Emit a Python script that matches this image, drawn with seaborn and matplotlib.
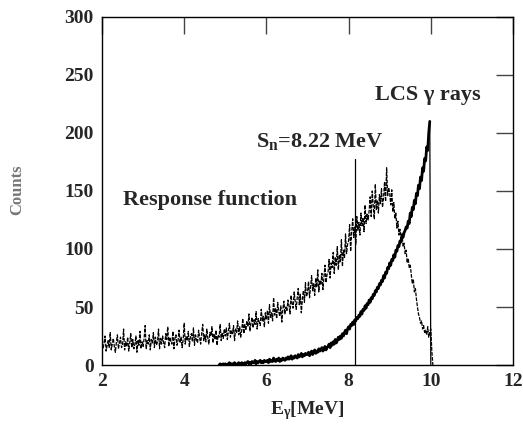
import numpy as np
import pandas as pd
import matplotlib
matplotlib.use("Agg")
import matplotlib.pyplot as plt
import seaborn as sns

# Response function (dashed noisy curve), energies 2.000 .. 10.050 step 0.025
resp_counts = [
    22, 14, 19, 25, 12, 17, 21, 15, 28, 13, 18, 23, 16, 11, 20, 26, 14, 19, 24, 15,
    17, 31, 13, 20, 16, 24, 12, 19, 27, 15, 22, 14, 18, 25, 11, 21, 17, 29, 14, 20,
    16, 23, 34, 14, 21, 18, 26, 13, 22, 19, 28, 15, 24, 17, 20, 31, 14, 23, 18, 25,
    19, 15, 27, 22, 33, 16, 24, 20, 18, 29, 14, 23, 26, 17, 21, 30, 19, 24, 15, 22,
    36, 18, 25, 21, 29, 16, 24, 27, 20, 32, 17, 26, 22, 19, 30, 24, 18, 27, 35, 21,
    26, 20, 31, 23, 18, 28, 25, 33, 19, 27, 22, 30, 17, 26, 24, 35, 21, 28, 23, 31,
    25, 32, 22, 29, 36, 24, 30, 27, 34, 21, 31, 28, 38, 26, 33, 24, 30, 40, 27, 35,
    30, 38, 33, 44, 29, 36, 41, 32, 39, 35, 46, 31, 40, 37, 34, 48, 38, 42, 33, 45,
    39, 47, 36, 52, 41, 45, 38, 58, 43, 49, 40, 54, 46, 42, 51, 37, 48, 55, 44, 50,
    47, 56, 51, 44, 60, 53, 49, 63, 55, 48, 58, 66, 52, 61, 45, 57, 64, 54, 71, 59,
    62, 72, 58, 68, 77, 64, 70, 60, 75, 67, 82, 63, 73, 69, 79, 65, 76, 86, 71, 78,
    80, 91, 75, 88, 84, 97, 79, 93, 86, 102, 82, 95, 89, 108, 85, 99, 92, 113, 96, 104,
    107, 121, 98, 115, 126, 110, 119, 104, 128, 116, 123, 112, 131, 120, 127, 115, 138, 122, 130, 125,
    133, 145, 128, 150, 137, 126, 156, 134, 142, 131, 147, 139, 152, 136, 144, 158, 141, 170, 146, 153,
    148, 138, 151, 132, 140, 126, 131, 118, 124, 112, 117, 108, 114, 102, 105, 96, 99, 88, 92, 84,
    86, 78, 70, 74, 63, 66, 57, 50, 44, 41, 36, 38, 31, 34, 28, 30, 26, 33, 24, 29,
    31, 12, 0,
]
resp_energy = np.round(np.arange(len(resp_counts)) * 0.025 + 2.0, 3)

# LCS gamma-ray spectrum, energies 4.850 .. 10.000 step 0.025
lcs_counts = [
    0, 1, 0, 0, 1, 0,
    1, 0, 0, 1, 2, 0, 1, 1, 0, 2, 1, 0, 1, 2, 1, 0, 2, 1, 1, 2,
    1, 2, 3, 1, 2, 1, 3, 2, 2, 4, 1, 3, 2, 3, 4, 2, 3, 2, 4, 3,
    3, 4, 2, 5, 3, 4, 3, 6, 4, 3, 5, 4, 6, 3, 5, 4, 6, 5, 4, 6,
    5, 7, 5, 6, 8, 5, 7, 6, 8, 7, 6, 9, 7, 8, 10, 7, 9, 8, 10, 9,
    9, 11, 8, 10, 12, 9, 11, 13, 10, 12, 11, 14, 12, 13, 15, 12, 14, 16, 13, 15,
    16, 18, 15, 19, 17, 20, 18, 22, 19, 21, 24, 22, 25, 23, 27, 25, 28, 30, 27, 31,
    33, 31, 35, 34, 37, 35, 39, 38, 41, 40, 43, 42, 46, 44, 48, 47, 51, 49, 53, 52,
    56, 54, 58, 57, 61, 60, 64, 63, 67, 66, 70, 69, 73, 72, 77, 75, 80, 79, 84, 83,
    88, 86, 91, 90, 95, 93, 99, 98, 103, 102, 107, 106, 111, 110, 114, 116, 119, 118, 124, 122,
    131, 128, 136, 134, 142, 139, 148, 146, 155, 152, 162, 159, 170, 167, 178, 176, 188, 185, 200, 210,
    0,
]
lcs_energy = np.round(np.arange(len(lcs_counts)) * 0.025 + 4.85, 3)

sn_energy = 8.15
sn_top = 178

x_ticks = [2, 4, 6, 8, 10, 12]
y_ticks = [0, 50, 100, 150, 200, 250, 300]

sns.set_theme(style="white")
plt.rcParams["font.family"] = ["Liberation Serif", "DejaVu Serif"]
plt.rcParams["mathtext.fontset"] = "custom"
plt.rcParams["mathtext.rm"] = "Liberation Serif"
plt.rcParams["mathtext.bf"] = "Liberation Serif:bold"
plt.rcParams["mathtext.it"] = "Liberation Serif:italic"

fig = plt.figure(figsize=(5.23, 4.34), dpi=100)
ax = fig.add_axes([102 / 523, 1 - 365 / 434, (513 - 102) / 523, (365 - 17) / 434])

df_r = pd.DataFrame({"E": resp_energy, "C": resp_counts})
df_l = pd.DataFrame({"E": lcs_energy, "C": lcs_counts})
df_l_body = df_l.iloc[:-1]
df_l_edge = df_l.iloc[-2:]

sns.lineplot(data=df_r, x="E", y="C", ax=ax, color="black", lw=0.9,
             linestyle=(0, (3, 1)), estimator=None, sort=False)
sns.lineplot(data=df_l_body, x="E", y="C", ax=ax, color="black", lw=2.0,
             estimator=None, sort=False)
sns.lineplot(data=df_l_edge, x="E", y="C", ax=ax, color="black", lw=0.9,
             estimator=None, sort=False)
ax.plot([sn_energy, sn_energy], [0, sn_top], color="black", lw=0.9)

ax.set_xlim(2, 12)
ax.set_ylim(0, 300)
ax.set_xticks(x_ticks)
ax.set_yticks(y_ticks)
ax.tick_params(direction="in", length=12, width=1, color="#444444",
               top=True, right=True, labelsize=14, pad=6)
for lab in ax.get_xticklabels() + ax.get_yticklabels():
    lab.set_fontweight("bold")
for s in ax.spines.values():
    s.set_color("black")
    s.set_linewidth(1.0)

ax.set_xlabel(r"E$_\mathbf{\gamma}$[MeV]", fontsize=14, fontweight="bold", labelpad=6)
ax.set_ylabel("")
fig.text(17 / 523, 1 - 190 / 434, "Counts", rotation=90, fontsize=12,
         fontweight="bold", color="#777777", ha="center", va="center")

ax.text(2.5, 142, "Response function", fontsize=16, fontweight="bold", va="center")
ax.text(5.75, 193, r"S$_\mathbf{n}$=8.22 MeV", fontsize=16, fontweight="bold", va="center")
ax.text(8.65, 233, "LCS γ rays", fontsize=16, fontweight="bold", va="center")

fig.savefig("out.png", dpi=100)
